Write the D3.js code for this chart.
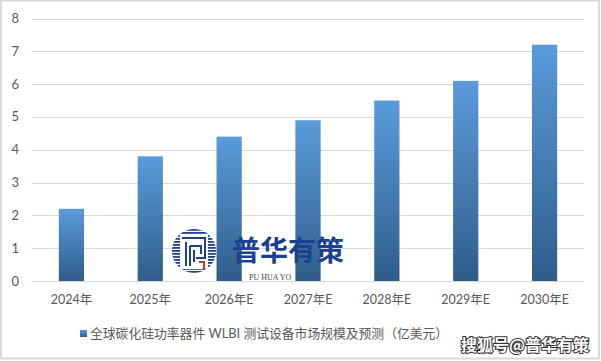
<html>
<head>
<meta charset="utf-8">
<script src="https://cdn.jsdelivr.net/npm/d3@7/dist/d3.min.js"></script>
<style>
body {margin:0; background:#fff;}
text {font-family: Lato, "Noto Sans CJK SC", sans-serif;}
</style>
</head>
<body>
<svg id="chart" width="601" height="361"></svg>
<script>
var years = ["2024年", "2025年", "2026年E", "2027年E", "2028年E", "2029年E", "2030年E"];
var values = [2.2, 3.8, 4.4, 4.9, 5.5, 6.1, 7.2];
var yTicks = [0, 1, 2, 3, 4, 5, 6, 7, 8];
var seriesName = "全球碳化硅功率器件 WLBI 测试设备市场规模及预测（亿美元）";

var svg = d3.select("#chart");

// outer frame
svg.append("rect").attr("x", 1).attr("y", 0.5).attr("width", 598).attr("height", 358)
  .attr("fill", "#fff").attr("stroke", "#d9d9d9").attr("stroke-width", 2);

var defs = svg.append("defs");
var grad = defs.append("linearGradient").attr("id", "barGrad")
  .attr("x1", 0).attr("y1", 0).attr("x2", 0).attr("y2", 1);
grad.append("stop").attr("offset", "0%").attr("stop-color", "#5a9bdb");
grad.append("stop").attr("offset", "100%").attr("stop-color", "#2f5d8a");

var x = d3.scaleBand().domain(years).range([32, 584]).paddingInner(0.68).paddingOuter(0.34);
var y = d3.scaleLinear().domain([0, 8]).range([281, 18.5]);

// gridlines
svg.append("g").selectAll("line").data(yTicks).enter().append("line")
  .attr("x1", 32).attr("x2", 584)
  .attr("y1", function(d) {return Math.round(y(d)) + 0.5;})
  .attr("y2", function(d) {return Math.round(y(d)) + 0.5;})
  .attr("stroke", "#d9d9d9").attr("stroke-width", 1);

// y tick labels
svg.append("g").selectAll("text").data(yTicks).enter().append("text")
  .attr("x", 19).attr("y", function(d) {return y(d);})
  .attr("dy", "0.35em").attr("text-anchor", "end")
  .attr("fill", "#595959").style("font-size", "13px")
  .text(function(d) {return d;});

// logo watermark (sits behind the 2027 bar edge)
var logo = svg.append("g");
var clip = defs.append("clipPath").attr("id", "logoClip");
clip.append("circle").attr("cx", 194).attr("cy", 251).attr("r", 22);
var stripes = logo.append("g").attr("clip-path", "url(#logoClip)");
stripes.append("circle").attr("cx", 194).attr("cy", 251).attr("r", 22).attr("fill", "#fff");
d3.range(0, 15).forEach(function(i) {
  stripes.append("rect").attr("x", 172).attr("y", 229 + i * 3).attr("width", 44).attr("height", 1.8)
    .attr("fill", "#1f3f8f");
});
stripes.append("rect").attr("x", 180).attr("y", 235).attr("width", 28).attr("height", 34).attr("fill", "#fff");
logo.append("path").attr("d", "M182 238 H205 V258 H196 M186 242 V266 M190 246 H201 V254 M190 246 V266 M194 250 V262")
  .attr("fill", "none").attr("stroke", "#1f3f8f").attr("stroke-width", 2);
logo.append("path").attr("d", "M199 262 H204 V270").attr("fill", "none").attr("stroke", "#c0392b").attr("stroke-width", 2);
logo.append("text").attr("x", 249).attr("y", 279.5).attr("fill", "#444")
  .style("font-size", "8px").style("font-family", "'Liberation Serif'")
  .text("PU  HUA  YO");

// bars
svg.append("g").selectAll("rect").data(values).enter().append("rect")
  .attr("x", function(d, i) {return x(years[i]);})
  .attr("width", x.bandwidth())
  .attr("y", function(d) {return y(d);})
  .attr("height", function(d) {return y(0) - y(d);})
  .attr("fill", "url(#barGrad)");

svg.append("text").attr("x", 232).attr("y", 261).attr("fill", "#1f3f8f")
  .style("font-size", "28px").style("font-weight", "bold").style("font-family", "'Noto Sans CJK SC'")
  .text("普华有策");

// x labels
svg.append("g").selectAll("text").data(years).enter().append("text")
  .attr("x", function(d) {return x(d) + x.bandwidth() / 2;})
  .attr("y", 300).attr("dy", "0.35em").attr("text-anchor", "middle")
  .attr("fill", "#595959").style("font-size", "12.5px")
  .text(function(d) {return d;});

// legend
svg.append("rect").attr("x", 80).attr("y", 330).attr("width", 7).attr("height", 7)
  .attr("fill", "url(#barGrad)");
svg.append("text").attr("x", 90).attr("y", 334).attr("dy", "0.35em")
  .attr("fill", "#595959").style("font-size", "12.8px").text(seriesName);

// sohu watermark
svg.append("text").attr("x", 589).attr("y", 351).attr("text-anchor", "end")
  .attr("fill", "#fff").attr("stroke", "#333").attr("stroke-width", 2).attr("paint-order", "stroke")
  .style("font-size", "16px").style("font-weight", "bold").style("font-family", "'Noto Sans CJK SC'")
  .text("搜狐号@普华有策");
</script>
</body>
</html>
